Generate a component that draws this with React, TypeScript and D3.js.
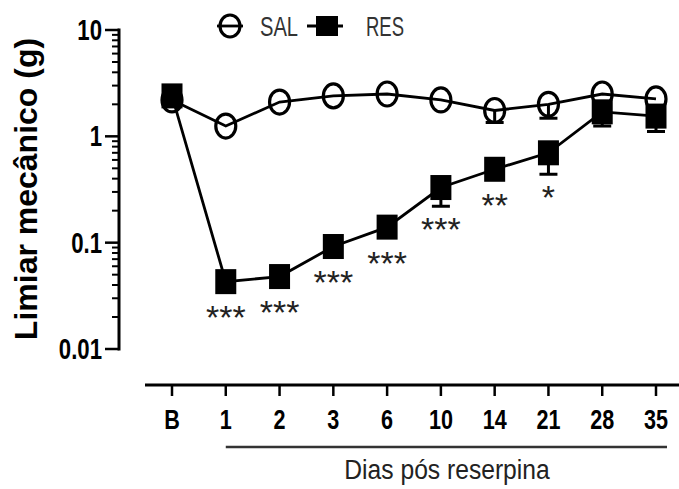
import React from "react";
import * as d3 from "d3";

// Days after reserpine ("B" = baseline)
const categories = ["B", "1", "2", "3", "6", "10", "14", "21", "28", "35"];
// Mechanical threshold (g), saline group
const salValues = [2.2, 1.25, 2.1, 2.4, 2.5, 2.2, 1.75, 2.0, 2.5, 2.25];
const salErrors = [0, 0, 0, 0, 0, 0, 0.4, 0.52, 0, 0];
// Mechanical threshold (g), reserpine group
const resValues = [2.4, 0.043, 0.048, 0.092, 0.14, 0.33, 0.49, 0.7, 1.7, 1.55];
const resErrors = [0, 0, 0, 0, 0, 0.11, 0, 0.26, 0.45, 0.44];
const significance = ["", "***", "***", "***", "***", "***", "**", "*", "", ""];
const yTicks = [10, 1, 0.1, 0.01];
const yTickLabels = ["10", "1", "0.1", "0.01"];

const W = 679;
const H = 489;
const FONT = "'Liberation Sans', Arial, Helvetica, sans-serif";

type CTextProps = {
  x: number;
  y: number;
  sx?: number;
  size: number;
  weight?: string | number;
  anchor?: "start" | "middle" | "end";
  fill?: string;
  children: React.ReactNode;
};

function CText({ x, y, sx = 1, size, weight = "normal", anchor = "start", fill = "#000", children }: CTextProps) {
  return (
    <text
      transform={`translate(${x},${y}) scale(${sx},1)`}
      fontFamily={FONT}
      fontSize={size}
      fontWeight={weight}
      textAnchor={anchor}
      fill={fill}
    >
      {children}
    </text>
  );
}

export default function App() {
  const x = d3.scalePoint<string>().domain(categories).range([172, 656]);
  const y = d3.scaleLog().domain([0.01, 10]).range([349, 30]);

  const line = d3
    .line<number>()
    .x((_, i) => x(categories[i]) as number)
    .y((d) => y(d));

  const minorTicks: number[] = [];
  [0.01, 0.1, 1].forEach((dec) => {
    for (let k = 2; k <= 9; k++) minorTicks.push(dec * k);
  });

  const axisX0 = 119;
  const xAxisY = 385;
  const capW = 18;
  const rectW = 21;
  const rectH = 25;

  const errBar = (vals: number[], errs: number[], key: string) =>
    vals.map((v, i) => {
      if (!errs[i]) return null;
      const cx = x(categories[i]) as number;
      const y0 = y(v);
      const y1 = y(v - errs[i]);
      return (
        <g key={`${key}-${i}`} stroke="#000" strokeWidth={3}>
          <line x1={cx} x2={cx} y1={y0} y2={y1} />
          <line x1={cx - capW / 2} x2={cx + capW / 2} y1={y1} y2={y1} />
        </g>
      );
    });

  return (
    <svg width={W} height={H} style={{ display: "block", position: "absolute", left: 0, top: 0 }}>
      <rect width={W} height={H} fill="#fff" />

      {/* Y axis with log ticks */}
      <line x1={axisX0} x2={axisX0} y1={y(10) - 1.5} y2={y(0.01) + 1.5} stroke="#000" strokeWidth={3} />
      {yTicks.map((t) => (
        <line key={`maj-${t}`} x1={axisX0 - 14} x2={axisX0} y1={y(t)} y2={y(t)} stroke="#000" strokeWidth={2.5} />
      ))}
      {minorTicks.map((t) => (
        <line key={`min-${t}`} x1={axisX0 - 7} x2={axisX0} y1={y(t)} y2={y(t)} stroke="#000" strokeWidth={2} />
      ))}
      {yTicks.map((t, i) => (
        <CText key={`yl-${t}`} x={102} y={y(t) + 10} sx={0.74} size={30} weight="bold" anchor="end">
          {yTickLabels[i]}
        </CText>
      ))}
      <text
        transform={`translate(37,189) rotate(-90)`}
        fontFamily={FONT}
        fontSize={32}
        fontWeight="bold"
        textAnchor="middle"
        fill="#000"
      >
        Limiar mecânico (g)
      </text>

      {/* X axis */}
      <line x1={145} x2={W} y1={xAxisY} y2={xAxisY} stroke="#000" strokeWidth={3} />
      {categories.map((c) => (
        <line key={`xt-${c}`} x1={x(c)} x2={x(c)} y1={xAxisY} y2={xAxisY + 11} stroke="#000" strokeWidth={2.5} />
      ))}
      {categories.map((c) => (
        <CText key={`xl-${c}`} x={x(c) as number} y={429} sx={0.8} size={27} weight="bold" anchor="middle">
          {c}
        </CText>
      ))}
      <line x1={x("1")} x2={667} y1={447} y2={447} stroke="#333" strokeWidth={2.5} />
      <CText x={447} y={479} sx={0.88} size={28} anchor="middle" fill="#222">
        Dias pós reserpina
      </CText>

      {/* SAL series */}
      <path d={line(salValues) || ""} fill="none" stroke="#000" strokeWidth={2.8} />
      {errBar(salValues, salErrors, "sal")}
      {salValues.map((v, i) => (
        <ellipse
          key={`sal-${i}`}
          cx={x(categories[i])}
          cy={y(v)}
          rx={10}
          ry={12}
          fill="none"
          stroke="#000"
          strokeWidth={3.2}
        />
      ))}

      {/* RES series */}
      <path d={line(resValues) || ""} fill="none" stroke="#000" strokeWidth={2.8} />
      {errBar(resValues, resErrors, "res")}
      {resValues.map((v, i) => (
        <rect
          key={`res-${i}`}
          x={(x(categories[i]) as number) - rectW / 2}
          y={y(v) - rectH / 2}
          width={rectW}
          height={rectH}
          fill="#000"
        />
      ))}

      {/* Significance marks below the reserpine points */}
      {resValues.map((v, i) => {
        if (!significance[i]) return null;
        const bottom = Math.max(y(v) + rectH / 2, resErrors[i] ? y(v - resErrors[i]) : 0);
        return (
          <CText
            key={`sig-${i}`}
            x={x(categories[i]) as number}
            y={bottom + 35}
            size={34}
            anchor="middle"
            fill="#222"
          >
            {significance[i]}
          </CText>
        );
      })}

      {/* Legend */}
      <line x1={217} x2={243} y1={26} y2={26} stroke="#000" strokeWidth={2.8} />
      <ellipse cx={230} cy={26} rx={10} ry={11} fill="none" stroke="#000" strokeWidth={3.2} />
      <CText x={260} y={36} sx={0.72} size={28} fill="#333">
        SAL
      </CText>
      <line x1={307} x2={343} y1={26} y2={26} stroke="#000" strokeWidth={2.8} />
      <rect x={316} y={16} width={22} height={20} fill="#000" />
      <CText x={366} y={36} sx={0.66} size={28} fill="#333">
        RES
      </CText>
    </svg>
  );
}
